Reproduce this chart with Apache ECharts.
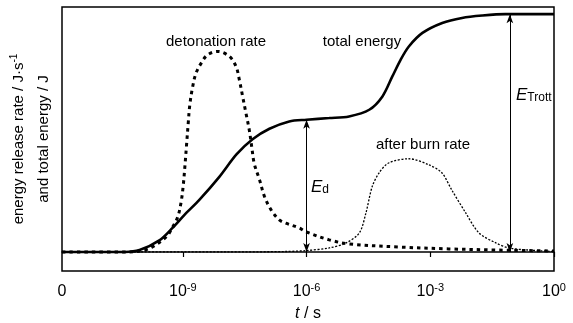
<!DOCTYPE html>
<html><head><meta charset="utf-8">
<script src="https://cdn.jsdelivr.net/npm/echarts@6/dist/echarts.min.js"></script>
<style>html,body{margin:0;padding:0;background:#fff}#c{width:573px;height:323px}</style>
</head><body><div id="c"></div>
<script>
// x values are log10(t / s)
const xMin = -11.93, xMax = 0;
const tickValues = [-9, -6, -3, 0];
const labelValues = [-11.93, -9, -6, -3, 0];
const labelTexts = ['0', '10^-9', '10^-6', '10^-3', '10^0'];

const totalLogT = [-11.93, -10.4, -10.05, -9.56, -9.25, -8.96, -8.6, -8.11, -7.7, -7.31, -6.9, -6.42, -6.0, -5.45, -4.97, -4.48, -4.16, -3.92, -3.72, -3.52, -3.19, -2.71, -2.23, -1.74, -1.18, 0];
const totalEnergy = [0, 0, 0.8, 5, 10.1, 15.6, 21.9, 31.7, 41, 47.4, 51.8, 54.9, 55.6, 56.3, 57.0, 59.8, 65.4, 73.8, 80.8, 86.4, 92.1, 96.3, 98.4, 99.4, 100, 100];

const detLogT = [-11.93, -10.3, -9.93, -9.73, -9.40, -9.24, -9.12, -9.04, -8.99, -8.95, -8.91, -8.87, -8.83, -8.76, -8.68, -8.55, -8.40, -8.15, -7.87, -7.71, -7.63, -7.55, -7.47, -7.39, -7.33, -7.27, -7.14, -7.02, -6.86, -6.66, -6.50, -6.18, -6.0, -5.45, -4.97, -3.76, -2.55, -1.34, 0];
const detRate = [0, 0, 0.8, 2.2, 6.4, 10.7, 14.9, 21.2, 28, 36, 45, 54, 62, 69.6, 75.2, 79.5, 82.9, 84.3, 82.2, 78.0, 72.4, 65.4, 58.4, 51.4, 44.3, 37.3, 30.3, 23.3, 17.7, 13.5, 12.1, 10.1, 8.4, 5.1, 3.4, 2.1, 1.3, 0.8, 0.4];

const abLogT = [-11.93, -8, -6.5, -6.0, -5.45, -5.04, -4.72, -4.56, -4.41, -4.24, -4.0, -3.52, -3.03, -2.72, -2.48, -2.14, -1.82, -1.41, -1.10, -0.61, 0];
const afterBurn = [0, 0, 0.2, 0.6, 1.7, 3.8, 8, 16.4, 27.4, 33.3, 37.5, 39.2, 36.6, 33.3, 26.1, 16.4, 8, 3.8, 1.7, 0.8, 0.2];

// annotation arrows: [log t, top value, bottom value]
const arrowEd = [-6.0, 55.6, 0];
const arrowTrott = [-1.07, 100, 0];

const zip = (xs, ys) => xs.map((x, i) => [x, ys[i]]);
const FONT = '"Liberation Sans", Arial, sans-serif';

const chart = echarts.init(document.getElementById('c'));
chart.setOption({
  animation: false,
  backgroundColor: '#fff',
  grid: { left: 62, right: 19, top: 7, bottom: 52, show: true, borderColor: '#000', borderWidth: 1.5, containLabel: false, outerBoundsMode: 'none' },
  xAxis: {
    type: 'value', min: xMin, max: xMax,
    name: '{i|t} / s', nameLocation: 'middle', nameGap: 35,
    nameTextStyle: { fontFamily: FONT, fontSize: 16, color: '#000', rich: { i: { fontStyle: 'italic', fontFamily: FONT, fontSize: 16, color: '#000' } } },
    axisLine: { show: true, lineStyle: { color: '#000', width: 1.5 } },
    axisTick: { show: true, inside: false, length: 5, lineStyle: { color: '#000', width: 1.2 }, customValues: tickValues },
    splitLine: { show: false },
    axisLabel: {
      customValues: labelValues, margin: 11, color: '#000', fontFamily: FONT, fontSize: 16,
      formatter: function (v) {
        let idx = labelValues.findIndex(l => Math.abs(l - v) < 1e-6);
        if (idx < 0) return '';
        const t = labelTexts[idx];
        if (t.indexOf('^') < 0) return '{b|' + t + '}';
        const p = t.split('^');
        return '{b|' + p[0] + '}{s|' + p[1] + '}';
      },
      rich: {
        b: { fontFamily: FONT, fontSize: 16, color: '#000', lineHeight: 20 },
        s: { fontFamily: FONT, fontSize: 11, color: '#000', padding: [0, 0, 9, 0] }
      }
    }
  },
  yAxis: {
    type: 'value', min: -8, max: 103,
    name: '{n|energy release rate / J·s}{s|-1}\n{n|and total energy / J}',
    nameLocation: 'middle', nameRotate: 90, nameGap: 6,
    nameTextStyle: {
      fontFamily: FONT, fontSize: 15, color: '#000', lineHeight: 25,
      rich: {
        n: { fontFamily: FONT, fontSize: 15, color: '#000', lineHeight: 25 },
        s: { fontFamily: FONT, fontSize: 10, color: '#000', padding: [0, 0, 8, 0] }
      }
    },
    axisLine: { show: false }, axisTick: { show: false }, axisLabel: { show: false }, splitLine: { show: false }
  },
  series: [
    { type: 'line', data: zip(abLogT, afterBurn), showSymbol: false, smooth: 0.3,
      lineStyle: { color: '#000', width: 1.3, type: [2, 1.6] } },
    { type: 'line', data: zip(detLogT, detRate), showSymbol: false, smooth: 0.35,
      lineStyle: { color: '#000', width: 3, type: [3.5, 4] } },
    { type: 'line', data: zip(totalLogT, totalEnergy), showSymbol: false, smooth: 0.3,
      lineStyle: { color: '#000', width: 2.6 },
      markLine: {
        silent: true, symbol: ['arrow', 'arrow'], symbolSize: [5, 9],
        label: { show: false },
        lineStyle: { color: '#000', width: 1, type: 'solid' },
        emphasis: { disabled: true },
        data: [
          [{ coord: [arrowEd[0], arrowEd[1]] }, { coord: [arrowEd[0], arrowEd[2]] }],
          [{ coord: [arrowTrott[0], arrowTrott[1]] }, { coord: [arrowTrott[0], arrowTrott[2]] }]
        ]
      }
    }
  ],
  graphic: [
    { type: 'text', x: 216, y: 42, style: { text: 'detonation rate', font: '15px ' + FONT, fill: '#000', align: 'center', verticalAlign: 'middle' } },
    { type: 'text', x: 362, y: 42, style: { text: 'total energy', font: '15px ' + FONT, fill: '#000', align: 'center', verticalAlign: 'middle' } },
    { type: 'text', x: 423, y: 145, style: { text: 'after burn rate', font: '15px ' + FONT, fill: '#000', align: 'center', verticalAlign: 'middle' } },
    { type: 'text', x: 311, y: 187, style: { text: '{e|E}{d|d}', align: 'left', verticalAlign: 'middle',
        rich: { e: { font: 'italic 17px ' + FONT, fill: '#000' }, d: { font: '12px ' + FONT, fill: '#000', padding: [6, 0, 0, 0] } } } },
    { type: 'text', x: 516, y: 95, style: { text: '{e|E}{d|Trott}', align: 'left', verticalAlign: 'middle',
        rich: { e: { font: 'italic 17px ' + FONT, fill: '#000' }, d: { font: '12px ' + FONT, fill: '#000', padding: [6, 0, 0, 0] } } } }
  ]
});
</script>
</body></html>
